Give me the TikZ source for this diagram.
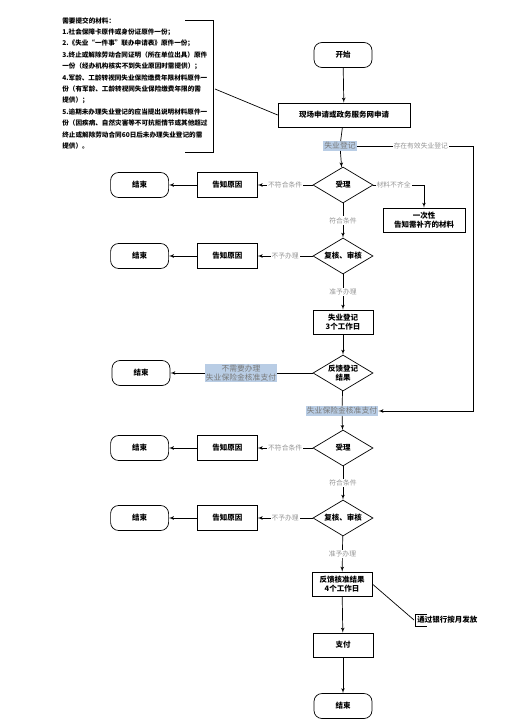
\documentclass[tikz,border=0pt]{standalone}
\usepackage{fontspec}
\setmainfont{Noto Sans CJK SC}
\usepackage{xcolor}
\usetikzlibrary{positioning}
\usetikzlibrary{arrows}
\usetikzlibrary{shapes.geometric}
\definecolor{hlblue}{RGB}{185,205,229}
\definecolor{lblgray}{RGB}{150,150,150}
\tikzset{edge/.style = {->,> = latex'}}

\begin{document}
\begin{tikzpicture}[x=1pt,y=-1pt,line width=0.7pt,
  proc node/.style={rectangle,draw,font=\fontsize{7.5}{9}\selectfont\bfseries,minimum width=60pt,minimum height=25pt,align=center,inner sep=1pt},
  dec node/.style={diamond,draw,aspect=1.67,inner sep=0pt,minimum width=60pt,minimum height=36pt,font=\fontsize{7.5}{9}\selectfont\bfseries,align=center},
  term node/.style={rectangle,draw,rounded corners=8pt,minimum width=58pt,minimum height=25pt,font=\fontsize{7.5}{9}\selectfont\bfseries},
  lbl/.style={fill=white,text=lblgray,font=\fontsize{6.8}{8}\selectfont,inner sep=1pt},
  hl/.style={fill=hlblue,text=lblgray!80!black,font=\fontsize{7.8}{9.5}\selectfont,inner sep=1pt,align=center}]
\useasboundingbox (0,0) rectangle (530,720);

% materials note
\node[anchor=north west,inner sep=0pt,align=left,font=\fontsize{6.6}{11.4}\selectfont\bfseries] (mat) at (62,17)
  {需要提交的材料：\\
   1.社会保障卡原件或身份证原件一份；\\
   2.《失业“一件事”联办申请表》原件一份；\\
   3.终止或解除劳动合同证明（所在单位出具）原件\\
   一份（经办机构核实不到失业原因时需提供）；\\
   4.军龄、工龄转视同失业保险缴费年限材料原件一\\
   份（有军龄、工龄转视同失业保险缴费年限的需\\
   提供）；\\
   5.逾期未办理失业登记的应当提出说明材料原件一\\
   份（因疾病、自然灾害等不可抗拒情节或其他超过\\
   终止或解除劳动合同60日后未办理失业登记的需\\
   提供）。};
\draw (185,20) -- (213,20) -- (213,152) -- (185,152);
\coordinate (matbrk) at (215,89);

% main column
\node[term node] (start) at (343,55) {开始};
\node[proc node, minimum width=132pt, minimum height=24pt] (apply) at (344,115) {现场申请或政务服务网申请};
\node[hl] (reg) at (340,146) {失业登记};
\node[dec node] (acc1) at (343,185) {受理};
\node[proc node] (tell1) [left=55pt of acc1] {告知原因};
\node[term node] (end1) [left=28pt of tell1] {结束};
\node[proc node, minimum width=82pt, minimum height=24pt] (supp) at (424,220) {一次性\\告知需补齐的材料};
\node[dec node] (chk1) at (343,256) {复核、审核};
\node[proc node] (tell2) [left=55pt of chk1] {告知原因};
\node[term node] (end2) [left=28pt of tell2] {结束};
\node[proc node, minimum height=24pt] (regbox) at (343,322) {失业登记\\3个工作日};
\node[dec node] (fb1) at (343,373) {反馈登记\\结果};
\node[hl] (nopay) at (241,373) {不需要办理\\失业保险金核准支付};
\node[term node] (end3) at (141,373) {结束};
\node[hl] (pay) at (342,411) {失业保险金核准支付};
\node[dec node] (acc2) at (343,448) {受理};
\node[proc node] (tell3) [left=55pt of acc2] {告知原因};
\node[term node] (end4) [left=28pt of tell3] {结束};
\node[dec node] (chk2) at (343,518) {复核、审核};
\node[proc node] (tell4) [left=55pt of chk2] {告知原因};
\node[term node] (end5) [left=28pt of tell4] {结束};
\node[proc node, minimum height=24pt] (result) at (342,584) {反馈核准结果\\4个工作日};
\node[proc node, minimum height=24pt] (paybox) at (343,645) {支付};
\node[term node] (endf) at (343,706) {结束};

% bank note
\node[anchor=west,inner sep=0pt,font=\fontsize{7.5}{9}\selectfont\bfseries] (bank) at (417,620) {通过银行按月发放};
\draw (427,614) -- (415,614) -- (415,626) -- (427,626);
\coordinate (bankbrk) at (414,620);

\coordinate (rt) at (473,146);

\draw (matbrk) -- (apply.west);
\path[edge] (start) edge (apply);
\draw (apply) -- (reg);
\path[edge] (reg) edge (acc1);
\draw[edge] (reg.east) -- node[lbl,pos=0.55] {存在有效失业登记} (rt) -- (rt |- pay) -- (pay.east);
\path[edge] (acc1) edge node[lbl] {不符合条件} (tell1);
\path[edge] (tell1) edge (end1);
\draw[edge] (acc1.east) -- node[lbl,pos=0.4] {材料不齐全} (acc1.east -| supp.north) -- (supp.north);
\path[edge] (acc1) edge node[lbl] {符合条件} (chk1);
\path[edge] (chk1) edge node[lbl] {不予办理} (tell2);
\path[edge] (tell2) edge (end2);
\path[edge] (chk1) edge node[lbl] {准予办理} (regbox);
\path[edge] (regbox) edge (fb1);
\draw (fb1) -- (nopay);
\path[edge] (nopay) edge (end3);
\draw (fb1) -- (pay);
\path[edge] (pay) edge (acc2);
\path[edge] (acc2) edge node[lbl] {不符合条件} (tell3);
\path[edge] (tell3) edge (end4);
\path[edge] (acc2) edge node[lbl] {符合条件} (chk2);
\path[edge] (chk2) edge node[lbl] {不予办理} (tell4);
\path[edge] (tell4) edge (end5);
\path[edge] (chk2) edge node[lbl] {准予办理} (result);
\path[edge] (result) edge (paybox);
\path[edge] (paybox) edge (endf);
\draw (result.east) -- (bankbrk);
\end{tikzpicture}
\end{document}
